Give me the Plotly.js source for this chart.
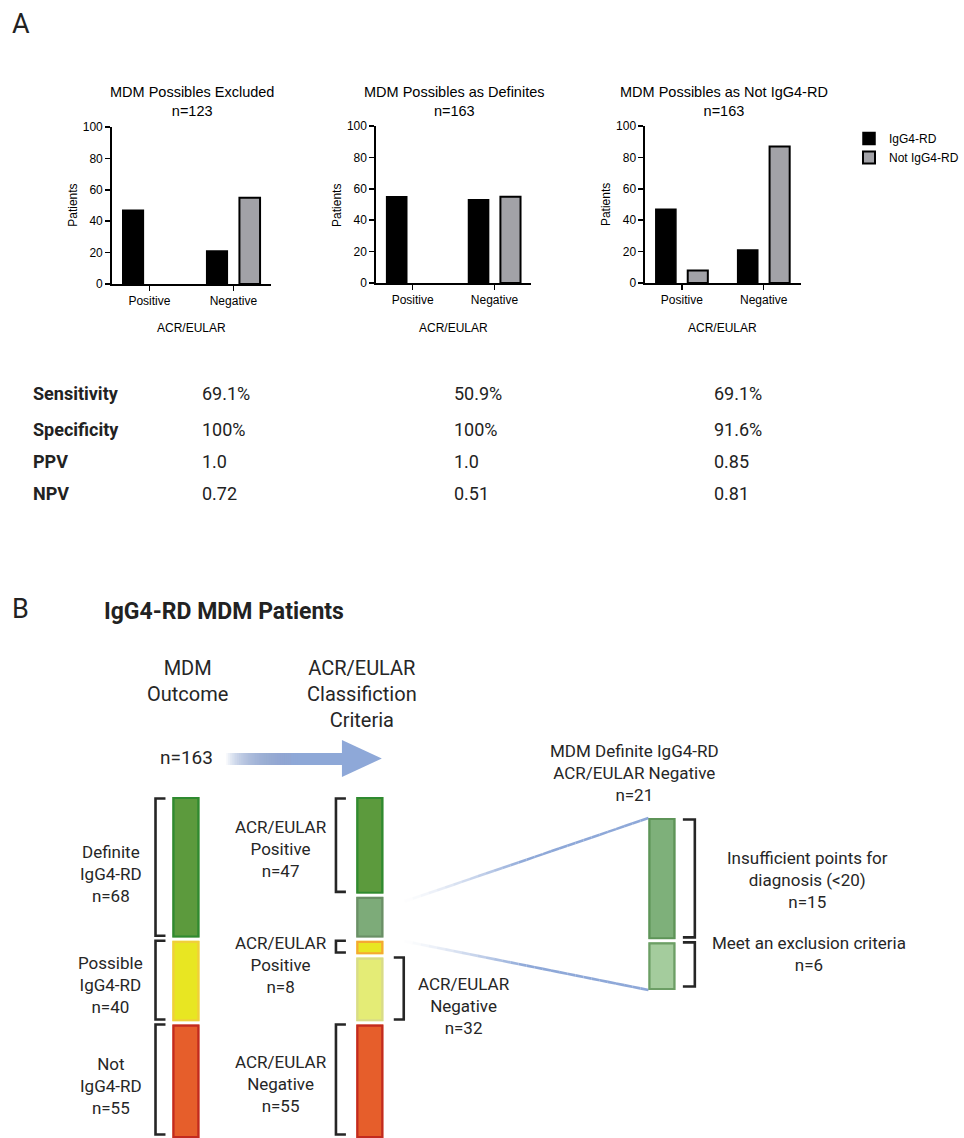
<!DOCTYPE html>
<html><head><meta charset="utf-8">
<script src="https://cdn.plot.ly/plotly-3.0.1.min.js"></script>
<style>html,body{margin:0;padding:0;background:#fff}#chart{width:964px;height:1138px}</style>
</head><body><div id="chart"></div>
<script>
// ---------------- DATA ----------------
const barCategories = ['Positive', 'Negative'];
const seriesNames = ['IgG4-RD', 'Not IgG4-RD'];
const chartTitles = ['MDM Possibles Excluded', 'MDM Possibles as Definites', 'MDM Possibles as Not IgG4-RD'];
const chartN = [123, 163, 163];
const excludedIgG4 = [47, 21];
const excludedNot = [0, 55];
const definitesIgG4 = [55, 53];
const definitesNot = [0, 55];
const asNotIgG4 = [47, 21];
const asNotNot = [8, 87];
const yTicks = [0, 20, 40, 60, 80, 100];
const xAxisTitle = 'ACR/EULAR';
const yAxisTitle = 'Patients';

const metricNames = ['Sensitivity', 'Specificity', 'PPV', 'NPV'];
const metricsExcluded = ['69.1%', '100%', '1.0', '0.72'];
const metricsDefinites = ['50.9%', '100%', '1.0', '0.51'];
const metricsNotIgG4 = ['69.1%', '91.6%', '0.85', '0.81'];

const mdmLabels = ['Definite<br>IgG4-RD', 'Possible<br>IgG4-RD', 'Not<br>IgG4-RD'];
const mdmCounts = [68, 40, 55];
const acrLabels = ['ACR/EULAR<br>Positive', 'ACR/EULAR<br>Negative', 'ACR/EULAR<br>Positive', 'ACR/EULAR<br>Negative', 'ACR/EULAR<br>Negative'];
const acrCounts = [47, 21, 8, 32, 55];
const defNegLabels = ['Insufficient points for<br>diagnosis (&lt;20)', 'Meet an exclusion criteria'];
const defNegCounts = [15, 6];

// ---------------- STYLE ----------------
const W = 964, H = 1138;
const px = x => x / W;
const py = y => 1 - y / H;
const ARIAL = '"Liberation Sans", Arial, Helvetica, sans-serif';
const ROBOTO = 'Roboto, "Open Sans", Arial, sans-serif';
const TXT = '#262626';

const mdmFill = ['#5c9a3d', '#e8e622', '#e65e2b'];
const mdmLine = ['#2f8a30', '#f0cf3a', '#c22a1f'];
const acrFill = ['#5c9a3d', '#7dab79', '#e8e622', '#e4ec76', '#e65e2b'];
const acrLine = ['#2f8a30', '#6a8f66', '#f5a833', '#d8db88', '#c22a1f'];
const defNegFill = ['#7eb07a', '#a4cc9d'];
const defNegLine = ['#5e9458', '#6c9e65'];

// ---------------- PANEL A: bar charts ----------------
const xDom = [[112, 272], [377, 533], [647, 803]];
const yDom = [[127, 284], [126, 283], [126, 283]];
const igData = [excludedIgG4, definitesIgG4, asNotIgG4];
const notData = [excludedNot, definitesNot, asNotNot];

const traces = [];
const layout = {
  width: W, height: H,
  margin: {l: 0, r: 0, t: 0, b: 0},
  paper_bgcolor: '#ffffff',
  plot_bgcolor: 'rgba(0,0,0,0)',
  barmode: 'group', bargap: 0.22, bargroupgap: 0.37,
  showlegend: true,
  legend: {x: px(852), y: py(124), xanchor: 'left', yanchor: 'top',
           font: {family: ARIAL, size: 12, color: '#000'}, bgcolor: 'rgba(0,0,0,0)', tracegroupgap: 0},
  hovermode: false,
  annotations: [], shapes: []
};
// outline width: scalar when every bar is drawn, otherwise hide outline of empty (0) bars
const outlineW = (vals, w) => vals.every(v => v > 0) ? w : vals.map(v => v > 0 ? w : 0);

for (let i = 0; i < 3; i++) {
  const s = i === 0 ? '' : String(i + 1);
  layout['xaxis' + s] = {
    domain: [px(xDom[i][0]), px(xDom[i][1])], anchor: 'y' + s, type: 'category',
    range: [-0.45, 1.45], showline: true, linecolor: '#000', linewidth: 1.5,
    ticks: 'outside', ticklen: 5, tickwidth: 1.5, tickcolor: '#000',
    tickfont: {family: ARIAL, size: 12, color: '#000'}, showgrid: false, zeroline: false, fixedrange: true
  };
  layout['yaxis' + s] = {
    domain: [py(yDom[i][1]), py(yDom[i][0])], anchor: 'x' + s,
    range: [0, 100], tickvals: yTicks, showline: true, linecolor: '#000', linewidth: 1.5,
    ticks: 'outside', ticklen: 5, tickwidth: 1.5, tickcolor: '#000',
    tickfont: {family: ARIAL, size: 12, color: '#000'}, showgrid: false, zeroline: false, fixedrange: true
  };
  traces.push({type: 'bar', name: seriesNames[0], x: barCategories, y: igData[i],
    xaxis: 'x' + s, yaxis: 'y' + s, legendgroup: 'ig', showlegend: i === 2,
    marker: {color: '#000', line: {color: '#000', width: outlineW(igData[i], 1.5)}}});
  traces.push({type: 'bar', name: seriesNames[1], x: barCategories, y: notData[i],
    xaxis: 'x' + s, yaxis: 'y' + s, legendgroup: 'not', showlegend: i === 2,
    marker: {color: '#a2a2a7', line: {color: '#000', width: outlineW(notData[i], 2)}}});
  const cx = (xDom[i][0] + xDom[i][1]) / 2;
  layout.annotations.push({text: chartTitles[i] + '<br>n=' + chartN[i], x: px(cx + 1), y: py(101.5),
    xref: 'paper', yref: 'paper', showarrow: false, xanchor: 'center', yanchor: 'middle',
    font: {family: ARIAL, size: 14.5, color: '#000'}});
  layout.annotations.push({text: xAxisTitle, x: px(cx), y: py(328), xref: 'paper', yref: 'paper',
    showarrow: false, xanchor: 'center', yanchor: 'middle', font: {family: ARIAL, size: 12, color: '#000'}});
  layout.annotations.push({text: yAxisTitle, x: px(xDom[i][0] - 39), y: py(205), xref: 'paper', yref: 'paper',
    showarrow: false, textangle: -90, xanchor: 'center', yanchor: 'middle', font: {family: ARIAL, size: 12, color: '#000'}});
}

// Table of metrics
const tableRowsY = [393, 429, 461, 493];
const tableColsX = [201, 453, 714];
const tableCols = [metricsExcluded, metricsDefinites, metricsNotIgG4];
metricNames.forEach((m, r) => {
  layout.annotations.push({text: '<b>' + m + '</b>', x: px(31), y: py(tableRowsY[r]), xref: 'paper', yref: 'paper',
    showarrow: false, xanchor: 'left', yanchor: 'middle', font: {family: ROBOTO, size: 18, color: '#222'}});
  tableCols.forEach((col, c) => {
    layout.annotations.push({text: col[r], x: px(tableColsX[c]), y: py(tableRowsY[r]), xref: 'paper', yref: 'paper',
      showarrow: false, xanchor: 'left', yanchor: 'middle', font: {family: ROBOTO, size: 18, color: '#222'}});
  });
});

// Panel letters and B title
layout.annotations.push({text: 'A', x: px(10), y: py(24), xref: 'paper', yref: 'paper', showarrow: false,
  xanchor: 'left', yanchor: 'middle', font: {family: ROBOTO, size: 27, color: '#222'}});
layout.annotations.push({text: 'B', x: px(10), y: py(609), xref: 'paper', yref: 'paper', showarrow: false,
  xanchor: 'left', yanchor: 'middle', font: {family: ROBOTO, size: 27, color: '#222'}});
layout.annotations.push({text: '<b>IgG4-RD MDM Patients</b>', x: px(102), y: py(611), xref: 'paper', yref: 'paper',
  showarrow: false, xanchor: 'left', yanchor: 'middle', font: {family: ROBOTO, size: 23, color: '#222'}});

// ---------------- PANEL B: diagram ----------------
const COL_L = 186.5, COL_M = 371, COL_R = 664, BAR_W = 27;
const totalMdm = mdmCounts.reduce((a, b) => a + b, 0);
const TOP4 = 797, DOMTOP4 = 590;
const k4 = (H - TOP4) / totalMdm;           // px per patient (left/middle columns)
const TOP5 = 818, BOT5 = 990;
const totalDefNeg = defNegCounts.reduce((a, b) => a + b, 0);
const k5 = (BOT5 - TOP5) / totalDefNeg;      // px per patient (right column)
const cumul = arr => arr.reduce((acc, v, i) => { acc.push(i === 0 ? 0 : acc[i - 1] + arr[i - 1]); return acc; }, []);
const mdmBase = cumul(mdmCounts), acrBase = cumul(acrCounts), defNegBase = cumul(defNegCounts);

layout.xaxis4 = {domain: [0, 1], range: [0, W], anchor: 'y4', visible: false, fixedrange: true};
layout.yaxis4 = {domain: [0, py(DOMTOP4)], range: [totalMdm, -(TOP4 - DOMTOP4) / k4], anchor: 'x4', visible: false, fixedrange: true};
layout.yaxis5 = {domain: [py(BOT5), py(TOP5)], range: [totalDefNeg, 0], anchor: 'x4', visible: false, fixedrange: true};

function columnTrace(cx, counts, base, fills, yax, name) {
  return {type: 'bar', name: name, x: counts.map(() => cx), y: counts, base: base,
    width: counts.map(() => BAR_W), offset: -BAR_W / 2, xaxis: 'x4', yaxis: yax, showlegend: false,
    marker: {color: fills, line: {width: 0}}};
}
traces.push(columnTrace(COL_L, mdmCounts, mdmBase, mdmFill, 'y4', 'MDM outcome'));
traces.push(columnTrace(COL_M, acrCounts, acrBase, acrFill, 'y4', 'ACR/EULAR'));
traces.push(columnTrace(COL_R, defNegCounts, defNegBase, defNegFill, 'y5', 'Definite, ACR/EULAR negative'));

// arrow with gradient shaft (stacked translucent layers => smooth ramp)
const ARROW = '#8ea8d8';
const nSh = 40, sx0 = 227, sx1 = 345, fadeEnd = 300;
for (let j = 0; j < nSh; j++) {
  const a = sx0 + (fadeEnd - sx0) * j / nSh;
  layout.shapes.push({type: 'rect', xref: 'paper', yref: 'paper', x0: px(a), x1: px(sx1), y0: py(765), y1: py(753),
    fillcolor: ARROW, opacity: 0.09, line: {width: 0}});
}
layout.shapes.push({type: 'rect', xref: 'paper', yref: 'paper', x0: px(fadeEnd - 8), x1: px(sx1 + 1), y0: py(765), y1: py(753),
  fillcolor: ARROW, opacity: 0.75, line: {width: 0}});
layout.shapes.push({type: 'path', xref: 'paper', yref: 'paper',
  path: `M ${px(343)},${py(740)} L ${px(383)},${py(758.5)} L ${px(343)},${py(777)} Z`,
  fillcolor: ARROW, line: {width: 0}});

// fading connector lines from middle column to the right column
function fadeLine(x0, y0, x1, y1) {
  const n = 30;
  for (let j = 0; j < n; j++) {
    const t0 = j / n, t1 = (j + 1) / n, tm = (t0 + t1) / 2;
    layout.shapes.push({type: 'line', xref: 'paper', yref: 'paper',
      x0: px(x0 + (x1 - x0) * t0), y0: py(y0 + (y1 - y0) * t0),
      x1: px(x0 + (x1 - x0) * t1), y1: py(y0 + (y1 - y0) * t1),
      opacity: Math.min(1, Math.pow(tm / 0.5, 1.3)), line: {color: ARROW, width: 2.6}});
  }
}
const yPix4 = u => TOP4 + u * k4;
const yPix5 = u => TOP5 + u * k5;
fadeLine(406, yPix4(acrBase[1]) + 6, COL_R - BAR_W / 2, yPix5(0));
fadeLine(406, yPix4(acrBase[2]) + 2, COL_R - BAR_W / 2, yPix5(totalDefNeg));

// segment outlines + white gaps (decoration, positioned from the data)
function segmentDecor(cx, counts, base, lines, yref, k) {
  const gap = 1.6 / k, one = 1 / k;
  counts.forEach((v, i) => {
    const start = base[i], end = base[i] + v;
    if (i > 0) layout.shapes.push({type: 'rect', xref: 'x4', yref: yref, x0: cx - 15, x1: cx + 15,
      y0: start - gap, y1: start + gap, fillcolor: '#ffffff', line: {width: 0}});
    layout.shapes.push({type: 'rect', xref: 'x4', yref: yref, x0: cx - BAR_W / 2 + 1, x1: cx + BAR_W / 2 - 1,
      y0: start + (i > 0 ? gap : 0) + one, y1: end - (i < counts.length - 1 ? gap : 0) - one,
      fillcolor: 'rgba(0,0,0,0)', line: {color: lines[i], width: 2.2}});
  });
}
segmentDecor(COL_L, mdmCounts, mdmBase, mdmLine, 'y4', k4);
segmentDecor(COL_M, acrCounts, acrBase, acrLine, 'y4', k4);
segmentDecor(COL_R, defNegCounts, defNegBase, defNegLine, 'y5', k5);

function bracket(xv, xt, y0, y1, yref) {
  layout.shapes.push({type: 'path', xref: 'x4', yref: yref,
    path: `M ${xt},${y0} L ${xv},${y0} L ${xv},${y1} L ${xt},${y1}`,
    line: {color: '#262626', width: 2.6}});
}
// bracket spans: inset by a few pixels so neighbouring brackets stay apart
function brSpan(start, v, k) { return [start + 1.5 / k, start + v - 3.5 / k]; }
mdmCounts.forEach((v, i) => { const s = brSpan(mdmBase[i], v, k4); bracket(156, 166, s[0], s[1], 'y4'); });
[0, 2, 4].forEach(i => { const s = brSpan(acrBase[i], acrCounts[i], k4); bracket(337, 347, s[0], s[1], 'y4'); });
{ const s = brSpan(acrBase[3], acrCounts[3], k4); bracket(405, 395, s[0], s[1], 'y4'); }
defNegCounts.forEach((v, i) => { const s = brSpan(defNegBase[i], v, k5); bracket(697, 685, s[0], s[1], 'y5'); });

// panel B text
function txt(t, x, y, size, anchor) {
  layout.annotations.push({text: t, x: px(x), y: py(y), xref: 'paper', yref: 'paper', showarrow: false,
    xanchor: anchor || 'center', yanchor: 'middle', align: 'center', font: {family: ROBOTO, size: size, color: TXT}});
}
txt('MDM<br>Outcome', 188, 681, 20);
txt('ACR/EULAR<br>Classifiction<br>Criteria', 363, 694, 20);
txt('n=' + totalMdm, 187, 757, 19);
const leftLabelY = [874, 985, 1086];
mdmLabels.forEach((l, i) => txt(l + '<br>n=' + mdmCounts[i], 111, leftLabelY[i], 17));
txt(acrLabels[0] + '<br>n=' + acrCounts[0], 282, 849, 17);
txt(acrLabels[2] + '<br>n=' + acrCounts[2], 282, 965, 17);
txt(acrLabels[3] + '<br>n=' + acrCounts[3], 465, 1006, 17);
txt(acrLabels[4] + '<br>n=' + acrCounts[4], 282, 1084, 17);
txt('MDM Definite IgG4-RD<br>ACR/EULAR Negative<br>n=' + totalDefNeg, 636, 773, 17);
txt(defNegLabels[0] + '<br>n=' + defNegCounts[0], 810, 880, 17);
txt(defNegLabels[1] + '<br>n=' + defNegCounts[1], 812, 954, 17);

Plotly.newPlot('chart', traces, layout, {staticPlot: true, displayModeBar: false});
</script></body></html>
